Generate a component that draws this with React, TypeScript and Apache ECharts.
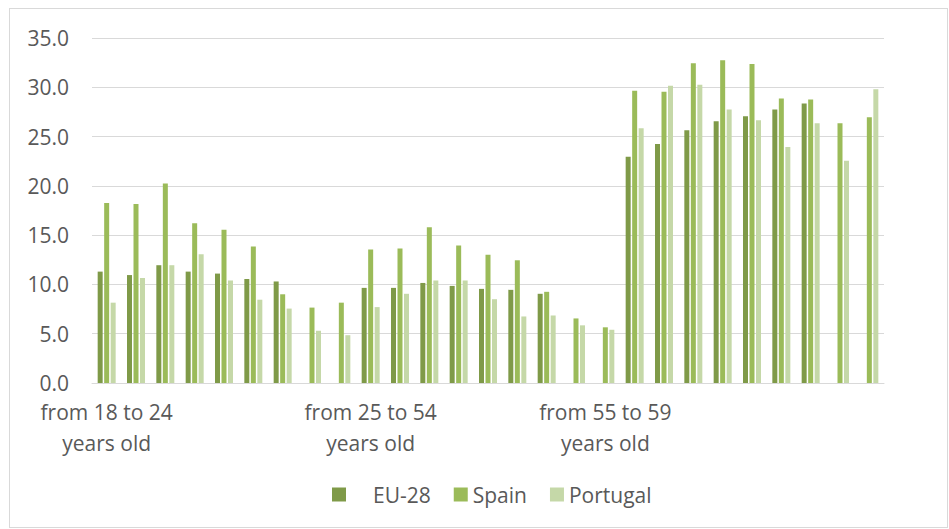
import React, { useEffect, useRef } from "react";
import * as echarts from "echarts";

const categoryLabels: string[] = [
  "from 18 to 24\nyears old", "", "", "", "", "", "", "", "",
  "from 25 to 54\nyears old", "", "", "", "", "", "", "",
  "from 55 to 59\nyears old", "", "", "", "", "", "", "", "", "",
];

const eu28: (number | null)[] = [
  11.3, 10.95, 11.95, 11.3, 11.1, 10.55, 10.3, null, null,
  9.65, 9.65, 10.15, 9.85, 9.55, 9.45, 9.05, null, null,
  22.95, 24.25, 25.65, 26.55, 27.05, 27.75, 28.35, null, null,
];

const spain: (number | null)[] = [
  18.25, 18.15, 20.25, 16.2, 15.55, 13.85, 9.0, 7.65, 8.15,
  13.55, 13.65, 15.8, 13.95, 13.0, 12.45, 9.25, 6.55, 5.65,
  29.65, 29.55, 32.45, 32.75, 32.35, 28.85, 28.75, 26.35, 26.95,
];

const portugal: (number | null)[] = [
  8.15, 10.65, 11.95, 13.05, 10.4, 8.45, 7.55, 5.3, 4.85,
  7.7, 9.05, 10.4, 10.4, 8.5, 6.75, 6.85, 5.85, 5.4,
  25.85, 30.15, 30.25, 27.75, 26.65, 23.95, 26.35, 22.55, 29.8,
];

const yTicks = { min: 0, max: 35, interval: 5 };

const FONT = "'Open Sans', 'Noto Sans', sans-serif";
const TEXT = "#595959";
const GRID = "#d9d9d9";

export default function App() {
  const ref = useRef<HTMLDivElement>(null);

  useEffect(() => {
    if (!ref.current) return;
    const chart = echarts.init(ref.current, undefined, { renderer: "svg" });
    const bar = (name: string, data: (number | null)[], color: string) => ({
      name,
      type: "bar" as const,
      data,
      barWidth: 5,
      barGap: "30%",
      itemStyle: { color },
    });
    chart.setOption({
      animation: false,
      textStyle: { fontFamily: FONT },
      grid: { left: 92, right: 65, top: 38, bottom: 146, containLabel: false },
      xAxis: {
        type: "category",
        data: categoryLabels,
        axisTick: { show: false },
        axisLine: { lineStyle: { color: GRID, width: 1 } },
        axisLabel: {
          interval: 0,
          margin: 13,
          color: TEXT,
          fontSize: 21,
          lineHeight: 31,
          fontFamily: FONT,
        },
      },
      yAxis: {
        type: "value",
        min: yTicks.min,
        max: yTicks.max,
        interval: yTicks.interval,
        axisLine: { show: false },
        axisTick: { show: false },
        splitLine: { lineStyle: { color: GRID, width: 1 } },
        axisLabel: {
          margin: 23,
          color: TEXT,
          fontSize: 21,
          fontFamily: FONT,
          formatter: (v: number) => v.toFixed(1),
        },
      },
      legend: {
        left: 332,
        top: 484,
        padding: 0,
        itemWidth: 14,
        itemHeight: 14,
        itemGap: 23,
        icon: "rect",
        textStyle: {
          color: TEXT,
          fontSize: 21,
          fontFamily: FONT,
          rich: { s: { width: 22 } },
        },
        formatter: (name: string) => (name === "EU-28" ? "{s|}" + name : name),
        data: ["EU-28", "Spain", "Portugal"],
      },
      series: [
        bar("EU-28", eu28, "#7f9a48"),
        bar("Spain", spain, "#9bbb59"),
        bar("Portugal", portugal, "#c5d8a8"),
      ],
    });
    return () => chart.dispose();
  }, []);

  return (
    <div style={{ position: "fixed", left: 0, top: 0, width: 949, height: 529, background: "#fff" }}>
      <div
        style={{
          position: "absolute",
          left: 9,
          top: 8,
          width: 939,
          height: 520,
          border: `1px solid ${GRID}`,
          boxSizing: "border-box",
        }}
      />
      <div ref={ref} style={{ position: "absolute", left: 0, top: 0, width: 949, height: 529 }} />
    </div>
  );
}
